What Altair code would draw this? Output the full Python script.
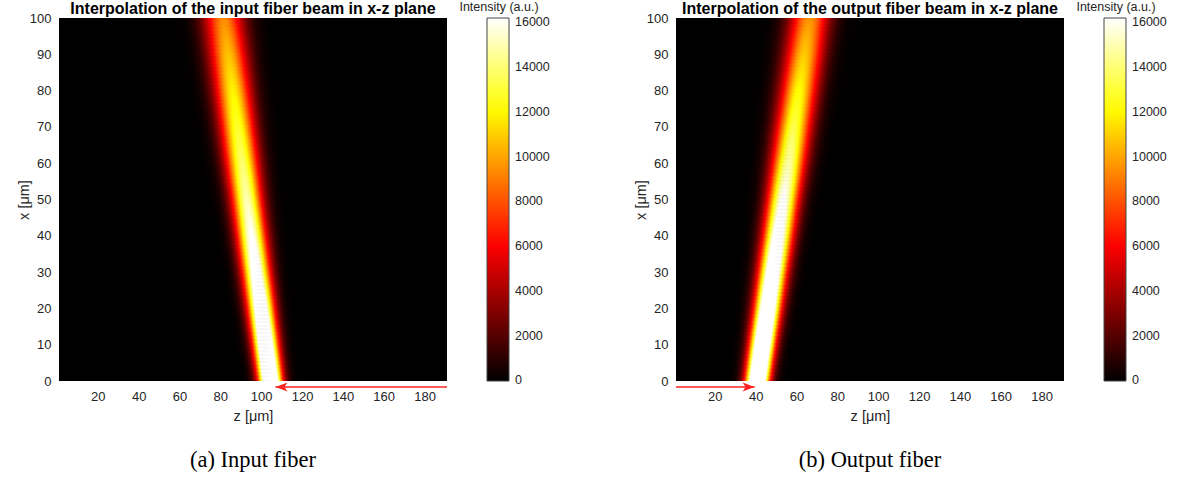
import altair as alt
import numpy as np
import pandas as pd

# ---- values ----
X_LEVELS = [0, 10, 20, 30, 40, 50, 60, 70, 80, 90, 100]          # x [um] rows
IN_CENTER = [104.5, 102.2, 99.9, 97.6, 95.3, 93.0, 90.7, 88.4, 86.1, 83.8, 81.5]
IN_SIGMA = [3.9, 4.2, 4.5, 4.8, 5.1, 5.4, 5.8, 6.1, 6.4, 6.7, 7.0]
IN_PEAK = [24500, 22000, 19800, 17800, 16300, 15000, 13900, 12900, 11900, 10700, 9400]
OUT_CENTER = [40.8, 43.3, 45.9, 48.4, 51.0, 53.5, 56.1, 58.6, 61.2, 63.8, 66.4]
OUT_SIGMA = [3.9, 4.2, 4.5, 4.8, 5.1, 5.4, 5.8, 6.1, 6.4, 6.7, 7.0]
OUT_PEAK = [25500, 23500, 21500, 19700, 18000, 16400, 14800, 13400, 12200, 10900, 9600]

Z_TICKS = [20, 40, 60, 80, 100, 120, 140, 160, 180]
X_TICKS = [0, 10, 20, 30, 40, 50, 60, 70, 80, 90, 100]
CBAR_TICKS = [0, 2000, 4000, 6000, 8000, 10000, 12000, 14000, 16000]
HOT_STOPS = [0, 6075, 12150, 16200]
HOT_COLORS = ["#000000", "#ff0000", "#ffff00", "#ffffff"]

TITLES = ["Interpolation of the input fiber beam in x-z plane",
          "Interpolation of the output fiber beam in x-z plane"]
CAPTIONS = ["(a) Input fiber", "(b) Output fiber"]
ARROW_FROM = [191, 1]
ARROW_TO = [107, 39.5]

W, H = 388, 363
Z_DOMAIN = [1, 191]
FONT = "Liberation Sans"
GREY = "#262626"


def beam_cells(centers, sigmas, peaks):
    rows = []
    for xi in range(0, 101):
        c = float(np.interp(xi, X_LEVELS, centers))
        s = float(np.interp(xi, X_LEVELS, sigmas))
        p = float(np.interp(xi, X_LEVELS, peaks))
        y0 = max(xi - 0.5, 0)
        y1 = min(xi + 0.9, 100)
        z0 = np.floor(c * 2) / 2 - 24
        while z0 < c + 24:
            zc = z0 + 0.25
            val = p * np.exp(-((zc - c) ** 2) / (2 * s * s))
            if val > 25:
                rows.append({"z0": z0, "z1": z0 + 0.8, "x0": y0, "x1": y1, "I": val})
            z0 += 0.5
    return pd.DataFrame(rows)


def panel(i, centers, sigmas, peaks):
    df = beam_cells(centers, sigmas, peaks)
    xs = alt.Scale(domain=Z_DOMAIN, nice=False, zero=False)
    ys = alt.Scale(domain=[0, 100], nice=False)
    # colour domain starts a hair below 0 so the "0" label is centred on its stop
    cdomain = [HOT_STOPS[0] - 25] + HOT_STOPS[1:]
    heat = alt.Chart(df).mark_rect(clip=True).encode(
        x=alt.X("z0:Q", scale=xs,
                axis=alt.Axis(values=Z_TICKS, title="z [μm]", domain=False, ticks=False,
                              grid=False, labelPadding=9, labelFontSize=13,
                              titleFontSize=14.5, titleFontWeight="normal",
                              labelColor=GREY, titleColor=GREY,
                              titleY=35, titleBaseline="middle",
                              labelFont=FONT, titleFont=FONT)),
        x2="z1:Q",
        y=alt.Y("x0:Q", scale=ys,
                axis=alt.Axis(values=X_TICKS, title="x [μm]", domain=False, ticks=False,
                              grid=False, labelPadding=8, labelFontSize=13,
                              titleFontSize=14.5, titleFontWeight="normal",
                              labelColor=GREY, titleColor=GREY,
                              titleX=-35, titleY=H / 2, titleAlign="center",
                              titleBaseline="middle",
                              labelFont=FONT, titleFont=FONT)),
        y2="x1:Q",
        color=alt.Color("I:Q",
                        scale=alt.Scale(domain=cdomain, range=HOT_COLORS,
                                        interpolate="rgb", clamp=True),
                        legend=alt.Legend(orient="none", legendX=W + 40, legendY=0,
                                          direction="vertical", title=None,
                                          gradientLength=H, gradientThickness=22,
                                          values=CBAR_TICKS, format="d",
                                          labelFontSize=12.5, labelColor=GREY,
                                          labelFont=FONT, labelBaseline="middle",
                                          labelOffset=6, labelOverlap=False,
                                          gradientStrokeColor="#444444",
                                          gradientStrokeWidth=1)),
    )
    one = pd.DataFrame({"a": [0]})
    title = alt.Chart(one).mark_text(
        text=TITLES[i], font=FONT, fontSize=16, fontWeight="bold",
        color="#000000", align="center", baseline="alphabetic"
    ).encode(x=alt.value(W / 2), y=alt.value(-4.5))
    cbtitle = alt.Chart(one).mark_text(
        text="Intensity (a.u.)", font=FONT, fontSize=12.5,
        color=GREY, align="center", baseline="alphabetic"
    ).encode(x=alt.value(W + 52), y=alt.value(-7))
    caption = alt.Chart(one).mark_text(
        text=CAPTIONS[i], font="Liberation Serif", fontSize=22.5,
        color="#000000", align="center", baseline="middle"
    ).encode(x=alt.value(W / 2), y=alt.value(442))

    arr = pd.DataFrame({"zf": [ARROW_FROM[i]], "zt": [ARROW_TO[i]]})
    shaft = alt.Chart(arr).mark_rule(color="#ff2222", strokeWidth=1.6).encode(
        x=alt.X("zt:Q", scale=xs), x2="zf:Q", y=alt.value(H + 6))
    if ARROW_TO[i] < ARROW_FROM[i]:
        shape = "M0,0 L2,-0.75 L1.5,0 L2,0.75 Z"
    else:
        shape = "M0,0 L-2,-0.75 L-1.5,0 L-2,0.75 Z"
    head = alt.Chart(arr).mark_point(shape=shape, filled=True, color="#ff2222",
                                     size=144, opacity=1).encode(
        x=alt.X("zt:Q", scale=xs), y=alt.value(H + 6))

    layers = [heat, shaft, head, title, cbtitle, caption]
    if i == 0:
        anchor = alt.Chart(one).mark_rect(color="#ffffff").encode(
            x=alt.value(-59), x2=alt.value(-58), y=alt.value(-17), y2=alt.value(-16))
        layers.append(anchor)
    return alt.layer(*layers).properties(width=W, height=H)


left = panel(0, IN_CENTER, IN_SIGMA, IN_PEAK)
right = panel(1, OUT_CENTER, OUT_SIGMA, OUT_PEAK)

chart = alt.HConcatChart(hconcat=[left, right], spacing=229, bounds="flush").resolve_scale(
    color="independent", x="independent", y="independent"
).properties(padding=0).configure_view(fill="#000000", stroke=None)

chart.save("out.html", embed_options={"renderer": "svg", "actions": False})
